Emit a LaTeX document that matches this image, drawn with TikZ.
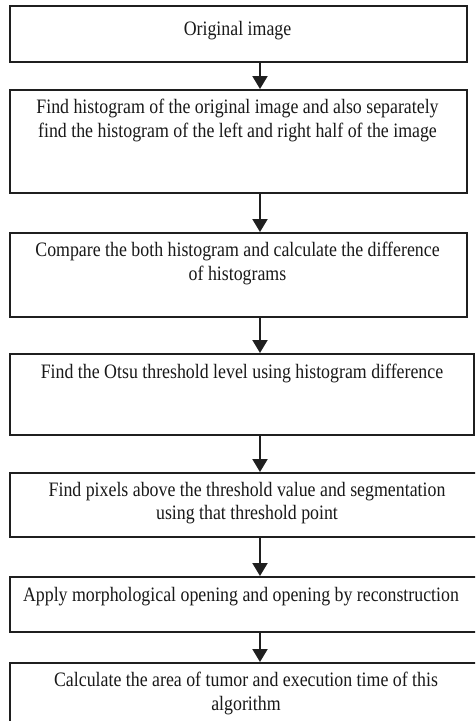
\documentclass[tikz,border=0pt]{standalone}
\usepackage{fontspec}
\setmainfont{Liberation Serif}[FakeStretch=0.87]
\usetikzlibrary{arrows.meta}
\begin{document}
\begin{tikzpicture}[x=1pt,y=-1pt,
  box/.style={draw=black!88, line width=1.5pt, rectangle, inner sep=0pt, anchor=north west},
  txt/.style={inner sep=0pt, align=center, anchor=north, font=\fontsize{20.5}{23.5}\selectfont, text=black!90},
  arr/.style={draw=black!88, line width=2pt, -{Triangle[width=15pt,length=13pt]}}]
\useasboundingbox (0,0) rectangle (475,721);
\clip (0,0) rectangle (475,721);
\fill[white] (0,0) rectangle (475,721);
\coordinate (ax) at (260,0);
% boxes
\node[box, minimum width=457pt, minimum height=56pt]  (b1) at (9,5)   {};
\node[box, minimum width=457pt, minimum height=103pt] (b2) at (9,89)  {};
\node[box, minimum width=457pt, minimum height=84pt]  (b3) at (9,232) {};
\node[box, minimum width=464pt, minimum height=81pt]  (b4) at (9,353) {};
\node[box, minimum width=476pt, minimum height=64pt]  (b5) at (9,472) {};
\node[box, minimum width=476pt, minimum height=55pt]  (b6) at (9,576) {};
\node[box, minimum width=476pt, minimum height=70pt]  (b7) at (9,662) {};
% texts
\node[txt] (t1) at (237.5,21) {Original image};
\node[txt] (t2) at (237.5,99) {Find histogram of the original image and also separately\\find the histogram of the left and right half of the image};
\node[txt] (t3) at (237.5,242) {Compare the both histogram and calculate the difference\\of histograms};
\node[txt] (t4) at (242,364) {Find the Otsu threshold level using histogram difference};
\node[txt] (t5) at (247,482) {Find pixels above the threshold value and segmentation\\using that threshold point};
\node[txt] (t6) at (241,587) {Apply morphological opening and opening by reconstruction};
\node[txt] (t7) at (246,672) {Calculate the area of tumor and execution time of this\\algorithm};
% arrows
\draw[arr] (b1.south -| ax) -- (b2.north -| ax);
\draw[arr] (b2.south -| ax) -- (b3.north -| ax);
\draw[arr] (b3.south -| ax) -- (b4.north -| ax);
\draw[arr] (b4.south -| ax) -- (b5.north -| ax);
\draw[arr] (b5.south -| ax) -- (b6.north -| ax);
\draw[arr] (b6.south -| ax) -- (b7.north -| ax);
\end{tikzpicture}
\end{document}
